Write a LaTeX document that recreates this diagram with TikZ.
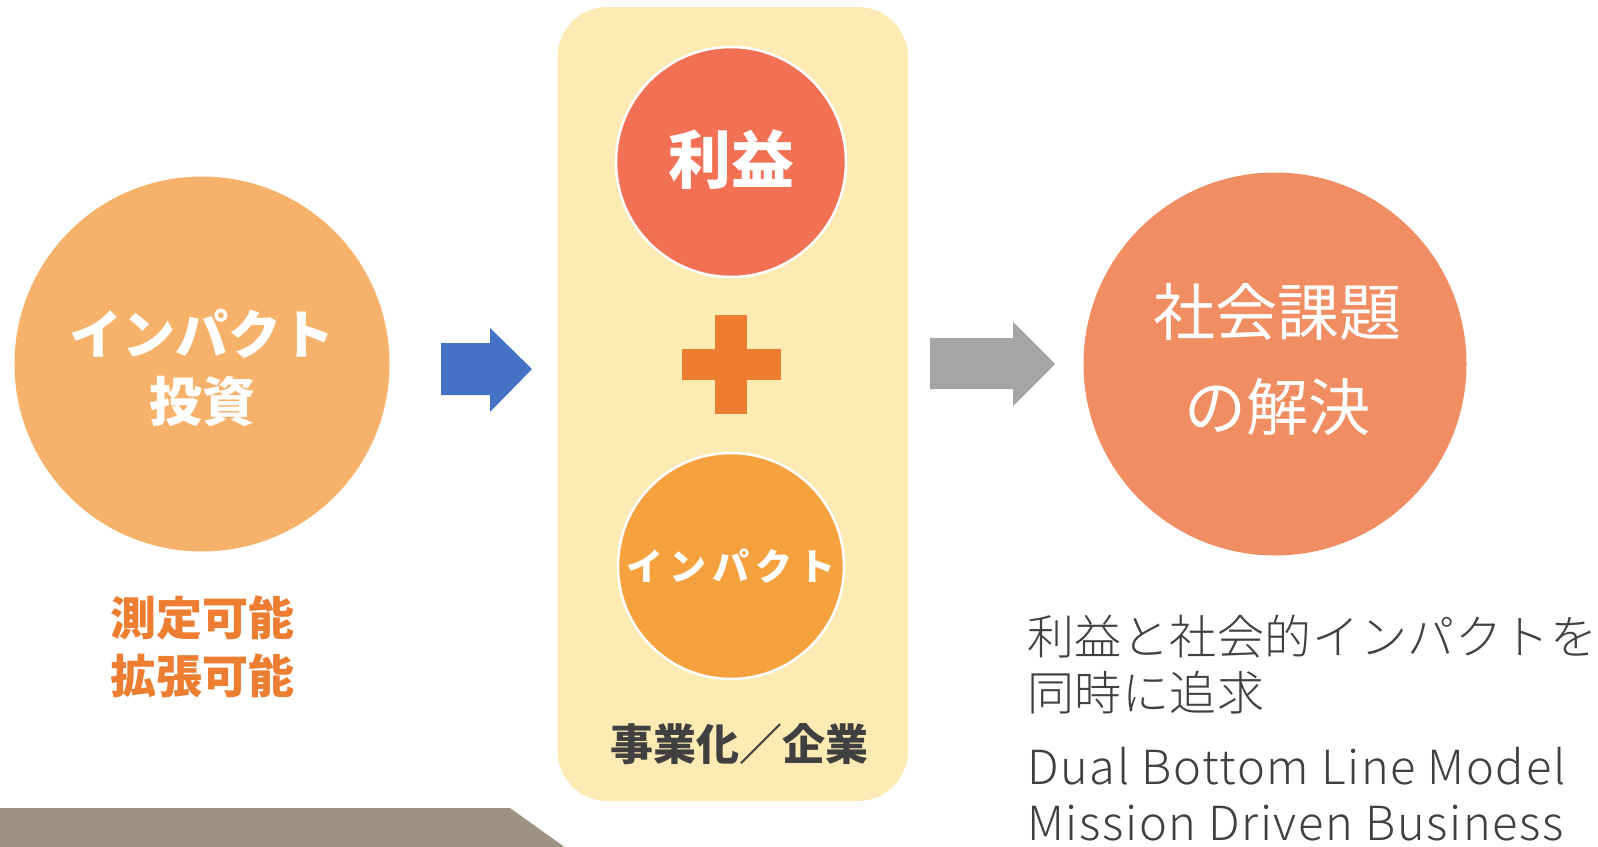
\documentclass[tikz,border=0pt]{standalone}
\usepackage{fontspec}
\newfontfamily\jp{Noto Sans CJK JP}
\IfFontExistsTF{Noto Sans CJK JP Light}
  {\newfontfamily\jplight{Noto Sans CJK JP Light}}
  {\newfontfamily\jplight{Noto Sans CJK JP}}
\definecolor{cLeft}{HTML}{F6B26B}
\definecolor{cProfit}{HTML}{F27155}
\definecolor{cImpact}{HTML}{F5A23E}
\definecolor{cRight}{HTML}{F08D62}
\definecolor{cBox}{HTML}{FEEBB4}
\definecolor{cBlue}{HTML}{4472C4}
\definecolor{cGray}{HTML}{A5A5A5}
\definecolor{cPlus}{HTML}{ED7D31}
\definecolor{cBanner}{HTML}{9E9382}
\definecolor{cText}{HTML}{404040}
\begin{document}
\begin{tikzpicture}[x=1pt,y=-1pt,
  bubble/.style={circle,inner sep=0pt,minimum size=#1},
  lbl/.style={inner sep=0pt,anchor=center},
  side/.style={inner sep=0pt,anchor=west,text=cText,font=\jplight\fontsize{47}{56}\selectfont}]
\useasboundingbox (0,0) rectangle (1598,846);
% banner (cut off)
\fill[cBanner] (0,808) -- (510,808) -- (566,848) -- (0,848) -- cycle;
% central box
\fill[cBox,rounded corners=50pt] (557.5,7) rectangle (908,801);
% circles
\node[bubble=375pt,fill=cLeft] (inv) at (202,364) {};
\node[bubble=230pt,fill=cProfit,draw=white,line width=2.5pt] (profit) at (731,162) {};
\node[bubble=226pt,fill=cImpact,draw=white,line width=2.5pt] (impact) at (731,566) {};
\node[bubble=383pt,fill=cRight] (sol) at (1275,364) {};
% plus
\fill[cPlus] (682,348.5) rectangle (781,380);
\fill[cPlus] (715,315) rectangle (747,414);
% arrows
\fill[cBlue] (441,343) -- (490,343) -- (490,328) -- (532,369) -- (490,412) -- (490,395) -- (441,395) -- cycle;
\fill[cGray] (930,338) -- (1013,338) -- (1013,322) -- (1055,364) -- (1013,406) -- (1013,389) -- (930,389) -- cycle;
% texts
\node[lbl,text=white,font=\jp\bfseries\fontsize{53}{60}\selectfont] (invA) at (202,334) {インパクト};
\node[lbl,text=white,font=\jp\bfseries\fontsize{53}{60}\selectfont] (invB) at (202,401) {投資};
\node[lbl,text=cPlus,font=\jp\bfseries\fontsize{46}{54}\selectfont] (mA) at (202,618) {測定可能};
\node[lbl,text=cPlus,font=\jp\bfseries\fontsize{46}{54}\selectfont] (mB) at (202,676) {拡張可能};
\node[lbl,text=white,font=\jp\bfseries\fontsize{63}{70}\selectfont] (profitT) at (731,160) {利益};
\node[lbl,text=white,font=\jp\bfseries\fontsize{37}{44}\selectfont] (impactT) at (731,566) {イ\,ン\,パ\,ク\,ト};
\node[lbl,text=cText,font=\jp\bfseries\fontsize{43}{50}\selectfont] (biz) at (739,744) {事業化／企業};
\node[lbl,text=white,font=\jp\fontsize{62}{70}\selectfont] (solA) at (1277,312) {社会課題};
\node[lbl,text=white,font=\jp\fontsize{62}{70}\selectfont] (solB) at (1277,407) {の解決};
\node[side] (r1) at (1027,637) {\addfontfeature{LetterSpace=1.2}利益と社会的インパクトを};
\node[side] (r2) at (1027,693) {\addfontfeature{LetterSpace=1.2}同時に追求};
\node[side] (r3) at (1027,766) {\addfontfeature{LetterSpace=3.5}Dual Bottom Line Model};
\node[side] (r4) at (1027,823) {\addfontfeature{LetterSpace=3.5}Mission Driven Business};
\end{tikzpicture}
\end{document}
